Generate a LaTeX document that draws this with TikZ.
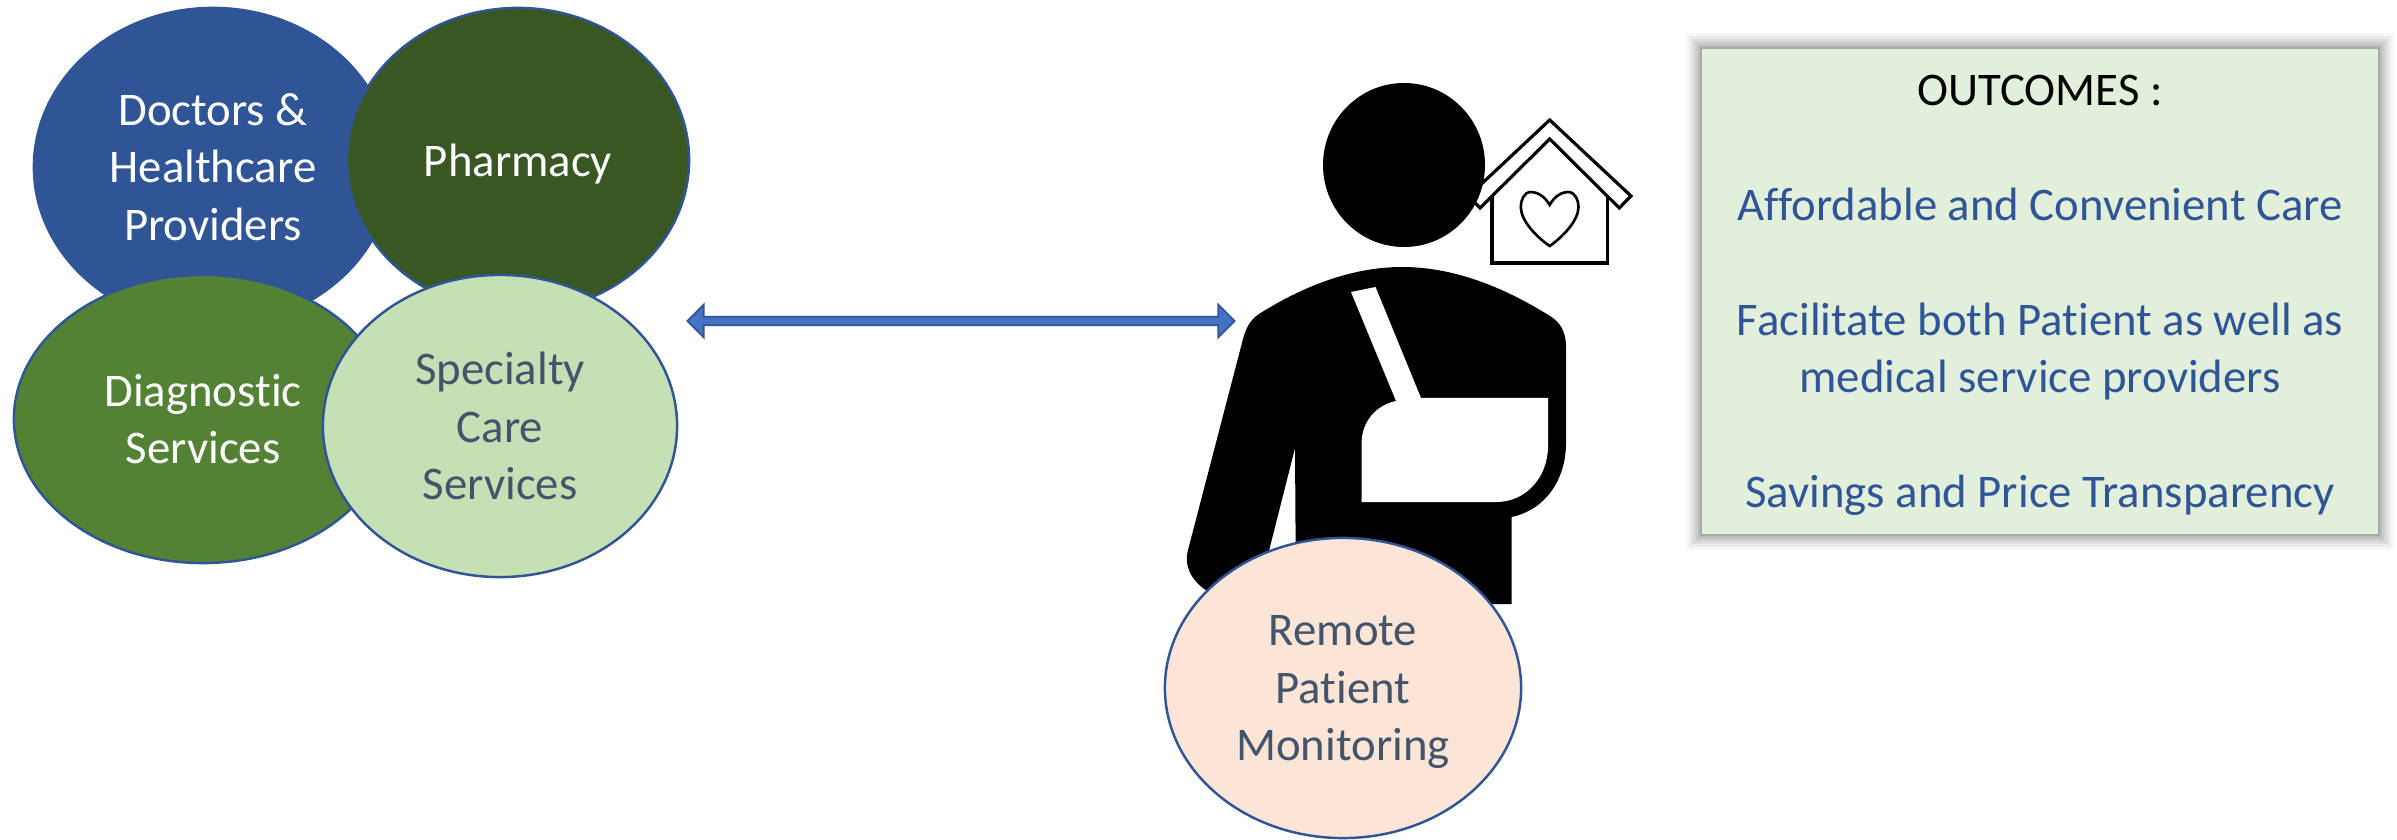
\documentclass[tikz,border=0pt]{standalone}
\usepackage{fontspec}
\setmainfont[Ligatures=NoCommon]{Carlito}
\usetikzlibrary{shapes.geometric,shapes.arrows}

\definecolor{edgeblue}{HTML}{2F5597}
\definecolor{arrowblue}{HTML}{4472C4}
\definecolor{darkgreen}{HTML}{385723}
\definecolor{midgreen}{HTML}{548235}
\definecolor{palegreen}{HTML}{C5E0B4}
\definecolor{palepeach}{HTML}{FBE5D6}
\definecolor{slatetext}{HTML}{44546A}
\definecolor{boxgreen}{HTML}{E2EFDA}

\begin{document}
\begin{tikzpicture}[
  x=0.01cm, y=-0.01cm,
  % GLOBAL CFG
  font=\fontsize{13.3}{16.35}\selectfont,
  % Styles
  service/.style={% For the service ellipses
      ellipse,
      draw=edgeblue,
      line width=.7pt,
      inner sep=0pt,
      align=center,
      },
  lighttext/.style={% White label on a dark fill
      text=white,
      },
  darktext/.style={% Slate label on a pale fill
      text=slatetext,
      },
  outcomes/.style={% For the outcomes box
      rectangle,
      fill=boxgreen,
      minimum width=6.76cm,
      minimum height=4.85cm,
      inner sep=0pt,
      align=center,
      text=edgeblue,
      text depth=0pt,
      },
  linkarrow/.style={% Block arrow with two heads
      double arrow,
      draw=edgeblue,
      fill=arrowblue,
      line width=.5pt,
      minimum height=5.47cm,
      minimum width=.33cm,
      inner sep=0pt,
      double arrow head extend=.025cm,
      },
  houseline/.style={% Outline of the house icon
      draw=black,
      fill=white,
      line width=.9pt,
      },
  ]

  \useasboundingbox (0,0) rectangle (2397,840);

  % The four services
  \node [service, fill=edgeblue, lighttext, minimum width=3.58cm, minimum height=3.18cm] (doctors) at (213,167) {Doctors \&\\Healthcare\\Providers};
  \node [service, fill=darkgreen, lighttext, text depth=0pt, minimum width=3.42cm, minimum height=3.04cm] (pharmacy) at (518,160) {Pharmacy};
  \node [service, fill=midgreen, lighttext, minimum width=3.78cm, minimum height=2.88cm] (diagnostic) at (203,419) {Diagnostic\\Services};
  \node [service, fill=palegreen, darktext, minimum width=3.54cm, minimum height=3.02cm] (specialty) at (500,426) {Specialty\\Care\\Services};

  % The link
  \node [linkarrow] (link) at (961,321) {};

  % House icon, under the head
  \draw [houseline] (1492,195) -- (1492,263) -- (1607.7,263) -- (1607.7,195);
  \draw [houseline] (1549.7,120) -- (1631,196) -- (1619.3,208) -- (1549.7,139) -- (1480,208) -- (1468.6,196) -- cycle;
  \draw [line width=.75pt] (1549.7,205) .. controls (1544,195) and (1536,192) .. (1531,192) .. controls (1524,192) and (1520.8,200) .. (1520.8,207) .. controls (1520.8,220) and (1535,236) .. (1549.7,246) .. controls (1564,236) and (1578.5,220) .. (1578.5,207) .. controls (1578.5,200) and (1575,192) .. (1568,192) .. controls (1563,192) and (1555,195) .. (1549.7,205) -- cycle;

  % Patient
  \fill [black] (1404,165) ellipse [x radius=81, y radius=82];
  \fill [black] (1402,267) .. controls (1350,267) and (1300,288) .. (1259,314) .. controls (1250,320) and (1246,328) .. (1243,339) -- (1188,550) .. controls (1183,570) and (1195,585) .. (1215,596) -- (1254,610) -- (1295,448) -- (1296,604) -- (1511.5,604) -- (1511.5,517) .. controls (1545,510) and (1566,480) .. (1566,443) -- (1566,346) .. controls (1566,332) and (1560,322) .. (1550,316) .. controls (1505,288) and (1455,267) .. (1402,267) -- cycle;
  \fill [white] (1351,292) -- (1375.5,287) -- (1421,398) -- (1548,398) -- (1548,446) .. controls (1548,478) and (1525,502) .. (1496.6,502) -- (1361.6,502) -- (1361.6,443) .. controls (1361.6,422) and (1376,405) .. (1396,401) -- cycle;

  \node [service, fill=palepeach, darktext, text depth=0pt, minimum width=3.56cm, minimum height=3cm] (remote) at (1343,688) {Remote\\Patient\\Monitoring};

  % Outcomes box with its soft edge
  \foreach \spread/\shade in {16/.03,13/.05,10/.06,7/.07,4/.08,2/.1}
    \fill [black, opacity=\shade] (1702-\spread,49-\spread) rectangle (2378+\spread,534+\spread);
  \node [outcomes] (box) at (2040,291.5) {{\color{black}OUTCOMES :}\\[16.35pt]Affordable and Convenient Care\\[16.35pt]Facilitate both Patient as well as\\medical service providers\\[16.35pt]Savings and Price Transparency};

\end{tikzpicture}
\end{document}
